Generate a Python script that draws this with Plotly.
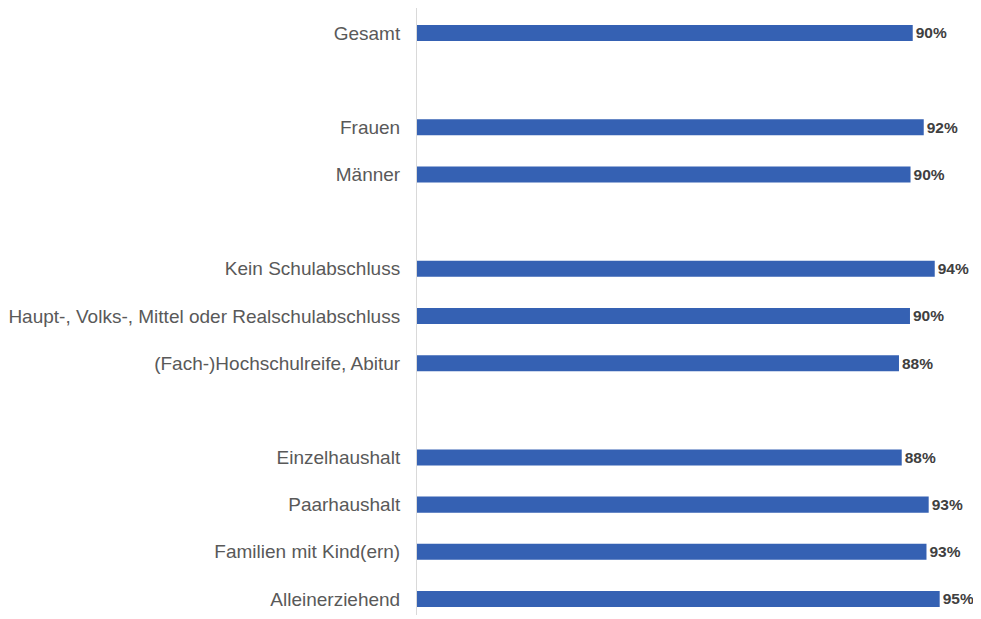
import plotly.graph_objects as go

# ============================================================
# Data
# ============================================================
categories = [
    "Gesamt",
    " ",
    "Frauen",
    "Männer",
    "  ",
    "Kein Schulabschluss",
    "Haupt-, Volks-, Mittel oder Realschulabschluss",
    "(Fach-)Hochschulreife, Abitur",
    "   ",
    "Einzelhaushalt",
    "Paarhaushalt",
    "Familien mit Kind(ern)",
    "Alleinerziehend",
]
values = [90.1, None, 92.1, 89.7, None, 94.1, 89.6, 87.6, None, 88.1, 93.0, 92.6, 95.0]

BAR_COLOR = "#3561b3"
FONT = "Liberation Sans, Arial, sans-serif"

# ============================================================
# Figure
# ============================================================
fig = go.Figure()
fig.add_trace(
    go.Bar(
        x=values,
        y=categories,
        orientation="h",
        marker=dict(color=BAR_COLOR, line=dict(width=0)),
        width=0.34,
        texttemplate="<b>%{x:.0f}%</b>",
        textposition="outside",
        constraintext="none",
        textfont=dict(family=FONT, size=15.5, color="#404040"),
        cliponaxis=False,
        hoverinfo="skip",
    )
)

# page body adds an 8px margin; margins are trimmed to match
fig.update_layout(
    width=980,
    height=611,
    margin=dict(l=404, r=0, t=0, b=4),
    paper_bgcolor="white",
    plot_bgcolor="white",
    showlegend=False,
    font=dict(family=FONT),
)
fig.update_xaxes(
    range=[0, 103.78],
    visible=False,
    showgrid=False,
    zeroline=False,
)
fig.update_yaxes(
    type="category",
    categoryorder="array",
    categoryarray=categories,
    range=[12.34, -0.53],
    showgrid=False,
    zeroline=False,
    showline=True,
    linecolor="#d9d9d9",
    linewidth=1,
    ticks="",
    ticklabelstandoff=12,
    tickfont=dict(family=FONT, size=19, color="#595959"),
)

fig.write_html("out.html")
